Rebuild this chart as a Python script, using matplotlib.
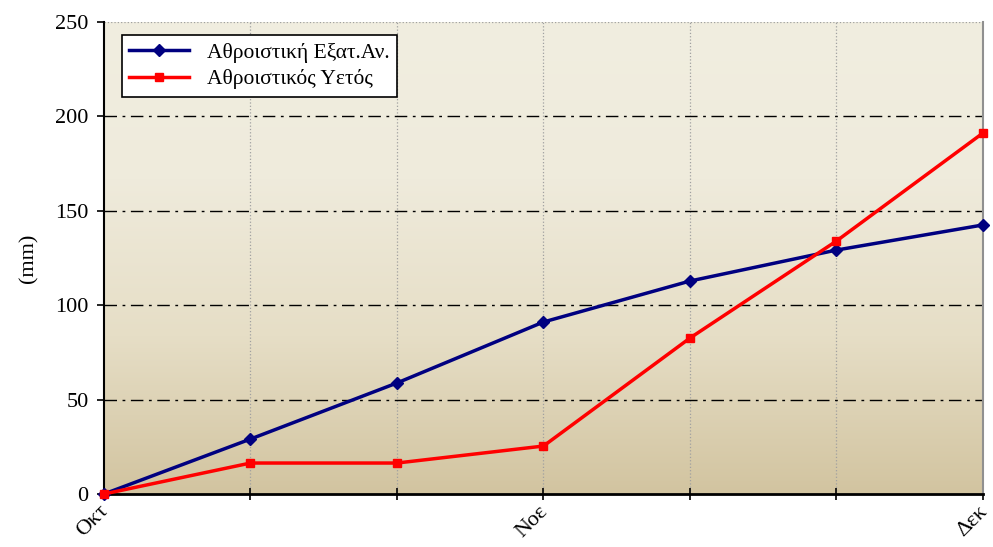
import numpy as np
import matplotlib.pyplot as plt
import matplotlib.transforms as mtransforms
from matplotlib.colors import LinearSegmentedColormap

plt.rcParams['font.family'] = ['Liberation Serif', 'DejaVu Serif']

x_pos = [0, 1, 2, 3, 4, 5, 6]
tick_labels = ['Οκτ', '', '', 'Νοε', '', '', 'Δεκ']
evap = [0, 29.1, 58.8, 91.1, 112.8, 129.2, 142.5]
rain = [0, 16.4, 16.4, 25.4, 82.6, 134.0, 191.2]

fig = plt.figure(figsize=(9.93, 5.47), dpi=100)
ax = fig.add_axes([0.1047, 0.0969, 0.8852, 0.8629])

# background gradient, light at top, tan at bottom
bg = LinearSegmentedColormap.from_list('bg', ['#d2c4a0', '#e6dec6', '#efebdc', '#f1eee0'])
grad = np.linspace(0, 1, 256).reshape(-1, 1)
ax.imshow(grad, aspect='auto', cmap=bg, origin='lower', extent=[0, 1, 0, 1],
          transform=ax.transAxes, zorder=0)

ax.set_xlim(0, 6)
ax.set_ylim(0, 250)

for xv in x_pos[1:-1]:
    ax.axvline(xv, color='#a0a0a0', linestyle=':', linewidth=0.9, zorder=1)
for yv in [50, 100, 150, 200]:
    ax.axhline(yv, color='black', linestyle=(0, (9, 4, 2, 4)), linewidth=1.0, zorder=1)
ax.axhline(250, color='#a0a0a0', linestyle=':', linewidth=0.9, zorder=1)

ax.plot(x_pos, evap, color='#000080', linewidth=2.5, marker='D', markersize=6,
        label='Αθροιστική Εξατ.Αν.', zorder=3, clip_on=False)
ax.plot(x_pos, rain, color='#ff0000', linewidth=2.5, marker='s', markersize=6,
        label='Αθροιστικός Υετός', zorder=4, clip_on=False)

ax.set_xticks(x_pos)
ax.set_xticklabels([])
ax.tick_params(axis='x', direction='inout', length=8, width=1.2)
# rotated month labels, nudged a little left so the last one stays inside
lbl_trans = ax.get_xaxis_transform() + mtransforms.ScaledTranslation(
    -0.05, -0.08, fig.dpi_scale_trans)
for xv, name in zip(x_pos, tick_labels):
    if name:
        ax.text(xv, 0, name, transform=lbl_trans, rotation=45, ha='right', va='top',
                rotation_mode='anchor', fontsize=16)

ax.set_yticks([0, 50, 100, 150, 200, 250])
ax.tick_params(axis='y', direction='out', length=5, width=1.2, labelsize=16, pad=6)
ax.set_ylabel('(mm)', fontsize=16, labelpad=12)

ax.spines['top'].set_visible(False)
ax.spines['right'].set_color('#909090')
ax.spines['right'].set_linewidth(1.5)
ax.spines['left'].set_linewidth(1.5)
ax.spines['bottom'].set_linewidth(2.0)

leg = ax.legend(loc='upper left', bbox_to_anchor=(0.02, 0.972), borderaxespad=0,
                fontsize=15.5, fancybox=False, framealpha=1, edgecolor='black',
                handlelength=2.8, borderpad=0.35, labelspacing=0.3)
leg.get_frame().set_linewidth(1.2)

fig.savefig('out.png', dpi=100)
